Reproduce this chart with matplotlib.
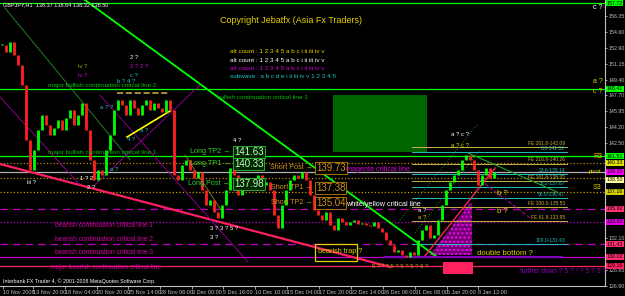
import numpy as np
import matplotlib.pyplot as plt
from matplotlib.patches import Rectangle, Polygon

plt.rcParams['font.family'] = ['Liberation Sans', 'DejaVu Sans']

# GBPJPY H1 closes, one every 4 bars
closes = [153.19, 152.42, 153.51, 152.10, 151.01, 148.83, 142.83, 139.56, 141.74, 143.92,
          145.55, 144.46, 143.37, 144.14, 145.01, 143.92, 145.23, 146.10, 144.46, 145.55,
          146.86, 143.92, 140.65, 138.47, 139.56, 139.01, 141.74, 143.37, 146.10, 147.19,
          146.64, 145.55, 147.19, 146.32, 145.55, 146.64, 147.19, 146.10, 146.86, 146.32,
          145.88, 147.19, 146.10, 139.01, 138.47, 140.10, 140.65, 139.56, 138.68, 139.34,
          137.38, 135.74, 136.28, 134.98, 134.32, 135.74, 137.38, 139.77, 139.01, 136.83,
          137.92, 137.38, 138.47, 137.92, 139.01, 137.92, 138.25, 137.38, 134.65, 133.23,
          135.74, 137.38, 138.47, 139.01, 138.68, 139.34, 138.47, 136.83, 135.19, 134.65,
          134.10, 134.98, 133.56, 133.01, 134.32, 133.89, 133.56, 133.89, 134.10, 133.67,
          133.78, 133.56, 133.45, 133.89, 133.23, 132.79, 131.92, 131.38, 130.61, 130.83,
          130.29, 130.07, 130.61, 130.29, 131.92, 133.01, 133.56, 132.14, 132.47, 134.10,
          135.74, 137.38, 138.25, 139.01, 139.56, 140.65, 141.19, 140.65, 139.56, 137.92,
          139.01, 139.77, 138.68, 139.34]

time_pos = [3, 33, 65, 97, 128, 160, 192, 223, 255, 287, 319, 351, 383, 415, 447, 478]
time_labels = ["10 Nov 2008", "13 Nov 20:00", "18 Nov 04:00", "20 Nov 20:00", "25 Nov 14:00",
               "28 Nov 06:00", "3 Dec 00:00", "5 Dec 16:00", "10 Dec 10:00", "15 Dec 04:00",
               "17 Dec 20:00", "22 Dec 14:00", "26 Dec 06:00", "31 Dec 08:00", "5 Jan 20:00",
               "8 Jan 12:00"]
price_ticks = [156.35, 154.60, 152.90, 151.15, 149.40, 147.70, 145.95, 144.20, 142.50,
               132.10, 128.65, 126.90]

# horizontal levels drawn across the chart
level_prices = [157.75, 148.41, 141.06, 140.33, 139.35, 138.68, 137.16, 135.30, 133.92, 131.49, 130.07, 129.09]
level_colors = ['#00ff00', '#00ff00', '#00ff00', '#b8860b', '#b0b0b0', '#b8860b', '#c8a000',
                '#c000c0', '#c000c0', '#c000c0', '#c000c0', '#ff2060']
level_styles = ['-', '-', '-', ':', '-', ':', ':', (0, (6, 4)), ':', (0, (6, 4)), '-', '-']

# price boxes on the right scale
box_prices = [157.75, 148.41, 141.06, 140.33, 139.35, 138.50, 137.16, 135.30, 133.92, 131.43, 130.07, 129.09]
box_texts = ["157.72", "148.41", "141.51", "140.33", "139.35", "138.50", "137.16", "135.92",
             "133.92", "131.43", "130.02", "129.16"]
box_colors = ['#00ff00', '#00ff00', '#00ff00', '#e0e000', '#ff00ff', '#ffffa0', '#d0d000',
              '#ff3070', '#e000e0', '#ff3070', '#ff3070', '#ff2060']

# fibonacci tool
fe_prices = [142.09, 140.26, 138.32, 135.53, 133.95]
fe_labels = ["FE 261.8-142.09", "FE 216.8-140.26", "FE 161.8-138.32", "FE 100.0-135.53", "FE 61.8-133.95"]
fr_prices = [141.52, 139.14, 137.67, 136.47, 131.43]
fr_labels = ["0.0-141.52", "23.6-139.14", "38.2-137.67", "50.0-136.47", "100.0-131.43"]

# trade plan
long_names = ["Long TP2", "Long TP1", "Long Post"]
long_values = [141.63, 140.33, 137.98]
short_names = ["Short Post", "Short TP1", "Short TP2"]
short_values = [139.73, 137.38, 135.04]

# trend lines (bar, price)
trend_x = [[85, 437], [5, 130], [0, 390], [100, 248], [0, 80], [95, 200], [185, 223],
           [127, 170], [117, 170], [425, 495], [400, 477], [415, 480], [468, 557], [480, 530], [385, 562]]
trend_p = [[158.09, 130.07], [157.22, 140.65], [140.21, 128.98], [147.74, 129.52], [147.52, 137.92],
           [137.92, 148.83], [141.19, 134.87], [143.15, 145.99], [147.95, 147.95], [130.18, 139.77],
           [134.10, 144.46], [132.69, 141.74], [141.41, 137.16], [138.47, 134.32], [130.07, 130.07]]
trend_c = ['#00ff00', '#208020', '#ff2060', '#a000a0', '#a000a0', '#a000a0', '#a08020',
           '#ffff00', '#c8a040', '#ff2060', '#208020', '#208020', '#20a020', '#a000a0', '#8000c0']
trend_w = [1.3, 0.7, 1.6, 0.6, 0.6, 0.6, 0.6, 1.2, 1.2, 1.0, 0.7, 0.7, 0.8, 0.8, 1.4]
trend_s = ['-', '-', '-', '-', '-', '-', '-', '-', '--', '-', ':', ':', '-', '--', '-']


def py(ypix):
    # screen row -> price (layout helper for labels)
    return 156.35 - (ypix - 16) / 9.17


fig = plt.figure(figsize=(6.25, 2.96), dpi=100, facecolor='black')
ax = fig.add_axes([0, 10 / 296, 605 / 625, 286 / 296])
ax.set_facecolor('black')
ax.set_xlim(0, 605)
ax.set_ylim(py(286), py(0))

# boxes / zones behind price
ax.add_patch(Rectangle((333, 141.52), 94, 147.74 - 141.52, fc='#006400', ec='none', zorder=1))
ax.add_patch(Rectangle((443, 128.21), 30, 129.52 - 128.21, fc='#ff2060', ec='none', zorder=1))
ax.add_patch(Polygon([(430, 130.29), (470, 135.96), (472, 135.96), (472, 130.29)],
                     closed=True, fc='#700070', ec='#ff00ff', hatch='....', lw=0, zorder=1))

for p, c, s in zip(level_prices, level_colors, level_styles):
    ax.axhline(p, color=c, ls=s, lw=0.9, zorder=2)

for xs, ps, c, w, s in zip(trend_x, trend_p, trend_c, trend_w, trend_s):
    ax.plot(xs, ps, color=c, lw=w, ls=s, zorder=3)

for p, t in zip(fe_prices, fe_labels):
    ax.plot([412, 567], [p, p], color='#c8b040', lw=0.7, zorder=2)
    ax.text(565, p + 0.12, t, color='#c8b040', fontsize=3.6, ha='right', va='bottom', zorder=6)
for p, t in zip(fr_prices, fr_labels):
    ax.plot([412, 567], [p, p], color='#20c0c0', lw=0.7, zorder=2)
    ax.text(565, p + 0.12, t, color='#20c0c0', fontsize=3.6, ha='right', va='bottom', zorder=6)

# candles
n = len(closes)
xs = 2 + 4 * np.arange(n)
opens = [closes[0]] + closes[:-1]
for x, o, c in zip(xs, opens, closes):
    col = '#00ff00' if c >= o else '#ff2020'
    lo, hi = min(o, c), max(o, c)
    if hi - lo < 0.15:
        hi = lo + 0.15
    ax.vlines(x, lo, hi, color=col, lw=2.0, zorder=4)

# trade plan labels
for nm, v, yp in zip(long_names, long_values, [152, 164, 184]):
    ax.text(230, py(yp), nm + " \u2192", color='#30d030', fontsize=5.2, ha='right', va='center', zorder=7)
    ax.text(234, py(yp), f"{v:.2f}", color='#c0ffc0', fontsize=7, va='center', zorder=7,
            bbox=dict(boxstyle='square,pad=0.1', fc='#002800', ec='#30c030', lw=0.6))
for nm, v, yp in zip(short_names, short_values, [168, 188, 203]):
    ax.text(313, py(yp), nm + " \u2192", color='#d09020', fontsize=5.2, ha='right', va='center', zorder=7)
    ax.text(316, py(yp), f"{v:.2f}", color='#d09020', fontsize=7, va='center', zorder=7,
            bbox=dict(boxstyle='square,pad=0.1', fc='black', ec='#c08000', lw=0.6))

ax.add_patch(Rectangle((315, py(261)), 42, py(244) - py(261), fc='none', ec='#e0d000', lw=0.9, zorder=7))

texts = [
    (3, 5, "GBPJPY,H1  138.37 138.64 138.32 138.50", 'white', 4.0),
    (220, 21, "Copyright Jebatfx (Asia Fx Traders)", '#e8d000', 6.5),
    (230, 52, "alt count : 1 2 3 4 5 a b c i ii iii iv v", '#e8d000', 4.6),
    (230, 61, "alt count : 1 2 3 4 5 a b c i ii iii iv v", 'white', 4.6),
    (230, 69, "alt count : 1 2 3 4 5 a b c i ii iii iv v", '#d000d0', 4.6),
    (230, 77, "subwave : a b c d e i ii iii iv v 1 2 3 4 5", '#20c0c0', 4.6),
    (48, 86, "major bullish continuation critical line 2", '#00c000', 4.6),
    (217, 98, "bullish continuation critical line 1", '#00c000', 4.6),
    (48, 153, "major bullish continuation critical line 1", '#00c000', 4.6),
    (55, 226, "bearish continuation critical line 1", '#d000a0', 4.8),
    (55, 240, "bearish continuation critical line 2", '#d000a0', 4.8),
    (55, 253, "bearish continuation critical line 3", '#d000a0', 4.8),
    (50, 268, "major bearish continuation critical line", '#d000a0', 4.8),
    (3, 281, "Interbank FX Trader 4, \u00a9 2001-2008 MetaQuotes Software Corp.", 'white', 3.8),
    (346, 170, "magenta critical line", '#d000d0', 5.2),
    (346, 205, "white/yellow critical line", 'white', 5.2),
    (318, 252, "bearish trap ?", '#e0d000', 5.2),
    (477, 254, "double bottom ?", '#e0d000', 5.6),
    (520, 272, "further down ? 5 ? \u00b3 ? 5 ? 5 ?", '#9000c0', 4.8),
    (372, 267, "5 ? \u00b3 ? 5 ? 5 ? 5 ? 6 ?", '#c0a000', 4.3),
    (78, 67, "iv ?", '#b0a000', 4.3), (78, 76, "iv ?", '#d000d0', 4.3),
    (130, 58, "2 ?", 'white', 4.3), (130, 67, "2 ? 2 ?", '#d000d0', 4.3),
    (130, 76, "c ?", '#20c0c0', 4.3), (117, 82, "b ? 4 ?", '#20c0c0', 4.3),
    (100, 108, "a ? ?", '#20c0c0', 4.3), (140, 131, "a ?", '#20c0c0', 4.3),
    (127, 140, "4 ?", '#20c0c0', 4.3), (27, 183, "iii ?", 'white', 4.3),
    (80, 179, "1 ? 2", 'white', 4.3), (87, 188, "2 ?", 'white', 4.3),
    (110, 170, "a ?", '#20c0c0', 4.3), (210, 229, "3 ? 3 ? 5 ?", 'white', 4.3),
    (210, 238, "3 ?", 'white', 4.3), (233, 141, "4 ?", 'white', 4.3),
    (451, 135, "a ? c ?", 'white', 4.3), (451, 146, "a ? c ?", '#e0d000', 4.3),
    (418, 211, "a ?", 'white', 4.3), (418, 218, "a ?", '#e0d000', 4.3),
    (497, 194, "b ?", '#e0d000', 5.5), (497, 212, "b ?", '#e0d000', 5.5),
    (593, 8, "c ?", 'white', 5), (593, 82, "a ?", '#e0d000', 5), (593, 92, "c ?", '#e0d000', 5),
    (593, 157, "R3", '#e0d000', 5), (589, 172, "pivot", '#e0d000', 4.2), (593, 188, "S3", '#e0d000', 5),
]
for x, yp, t, c, s in texts:
    ax.text(x, py(yp), t, color=c, fontsize=s, va='center', ha='left', zorder=8)

# axes like the terminal
for side in ['left', 'top']:
    ax.spines[side].set_visible(False)
for side in ['right', 'bottom']:
    ax.spines[side].set_color('#c0c0c0')
    ax.spines[side].set_linewidth(0.8)
ax.yaxis.tick_right()
ax.set_yticks(price_ticks)
ax.set_yticklabels([f"{p:.2f}" for p in price_ticks])
ax.tick_params(axis='y', colors='#c0c0c0', labelsize=3.8, length=1.5, width=0.6, pad=0.8)
ax.set_xticks(time_pos)
ax.set_xticklabels(time_labels, ha='left')
ax.tick_params(axis='x', colors='#c0c0c0', labelsize=4.0, length=2, width=0.6, pad=1)

ytr = ax.get_yaxis_transform()
for p, t, c in zip(box_prices, box_texts, box_colors):
    ax.text(1.003, p, t, transform=ytr, color='black', fontsize=3.8, va='center', ha='left',
            clip_on=False, zorder=9, bbox=dict(boxstyle='square,pad=0.1', fc=c, ec='none'))

fig.savefig('out.png', dpi=100, facecolor='black')
